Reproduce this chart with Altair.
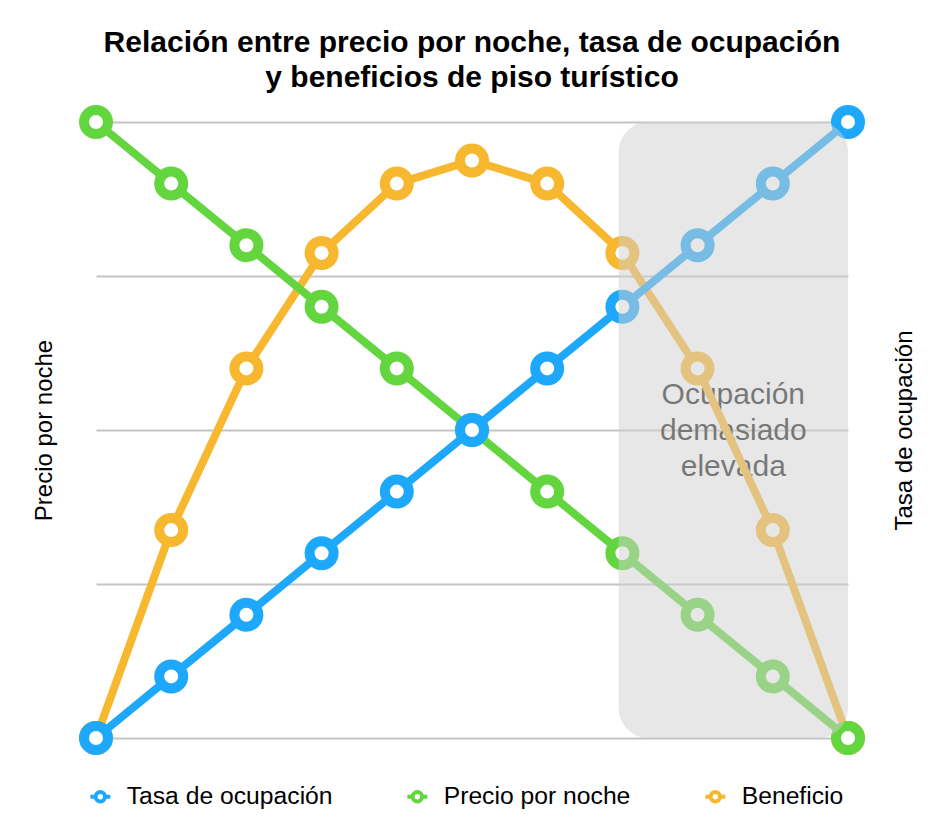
import altair as alt
import pandas as pd

# Eje horizontal: pasos de precio (de más caro a más barato)
pasos = list(range(11))

# Series (escala 0-100)
tasa_ocupacion = [0, 10, 20, 30, 40, 50, 60, 70, 80, 90, 100]
precio_noche = [100, 90, 80, 70, 60, 50, 40, 30, 20, 10, 0]
beneficio = [0, 33.75, 60, 78.75, 90, 93.75, 90, 78.75, 60, 33.75, 0]

series_nombres = ["Tasa de ocupación", "Precio por noche", "Beneficio"]
series_colores = ["#1ea8fb", "#63d63f", "#f7b72e"]
series_valores = [tasa_ocupacion, precio_noche, beneficio]

# Zona de ocupación excesiva
zona_inicio = [6.95]
zona_fin = [10]
zona_texto = ["Ocupación", "demasiado", "elevada"]

titulo = ["Relación entre precio por noche, tasa de ocupación",
          "y beneficios de piso turístico"]

FONT = "Liberation Sans"

rows = []
for nombre, valores in zip(series_nombres, series_valores):
    for p, v in zip(pasos, valores):
        rows.append({"paso": p, "valor": v, "serie": nombre})
df = pd.DataFrame(rows)

zona_df = pd.DataFrame({"x0": zona_inicio, "x1": zona_fin,
                        "y0": [0], "y1": [100]})
texto_df = pd.DataFrame({"xm": [(zona_inicio[0] + zona_fin[0]) / 2],
                         "ym": [50], "t": [zona_texto]})

x_scale = alt.Scale(domain=[0, 10], nice=False, zero=False)
y_scale = alt.Scale(domain=[0, 100], nice=False, zero=False)

left_axis = alt.Axis(values=[0, 25, 50, 75, 100], grid=True, gridColor="#c4c4c4",
                     gridWidth=2, labels=False, ticks=False, domain=False,
                     title="Precio por noche", titleFont=FONT, titleFontSize=24,
                     titleFontWeight="normal", titleColor="#000000",
                     titlePadding=40)

ring_symbol = ("M-0.47,0 A0.47,0.47 0 1,1 0.47,0 A0.47,0.47 0 1,1 -0.47,0 Z "
               "M-1,0 L-0.47,0 M0.47,0 L1,0")

color = alt.Color(
    "serie:N",
    scale=alt.Scale(domain=series_nombres, range=series_colores),
    legend=alt.Legend(orient="none", legendX=-8, legendY=662,
                      direction="horizontal", title=None,
                      labelFont=FONT, labelFontSize=24.7, labelColor="#000000",
                      labelLimit=0,
                      symbolType=ring_symbol, symbolSize=400,
                      symbolStrokeWidth=4, symbolFillColor="white",
                      labelOffset=14, columnPadding=66),
)

X = alt.X("paso:Q", scale=x_scale, axis=None)
Y = alt.Y("valor:Q", scale=y_scale, axis=left_axis)

texto = alt.Chart(texto_df).mark_text(
    font=FONT, fontSize=30, lineHeight=36, color="#1e1e1e",
    align="center", baseline="middle", dy=-35
).encode(
    x=alt.X("xm:Q", scale=x_scale, axis=None),
    y=alt.Y("ym:Q", scale=y_scale, axis=left_axis),
    text="t",
)

capas = [texto]
# Beneficio abajo, tasa de ocupación arriba
for nombre in ["Beneficio", "Precio por noche", "Tasa de ocupación"]:
    sub = alt.Chart(df).transform_filter(alt.datum.serie == nombre)
    capas.append(sub.mark_line(strokeWidth=8, strokeCap="round").encode(
        x=X, y=Y, color=color))
    capas.append(sub.mark_point(shape="circle", filled=False, fill="white",
                                fillOpacity=1, opacity=1, size=576,
                                strokeWidth=10).encode(
        x=X, y=Y, color=color))

zona = alt.Chart(zona_df).mark_rect(
    color="#cfcfcf", opacity=0.5, cornerRadius=30
).encode(
    x=alt.X("x0:Q", scale=x_scale, axis=None),
    x2="x1:Q",
    y=alt.Y("y0:Q", scale=y_scale, axis=left_axis),
    y2="y1:Q",
)
capas.append(zona)

izquierda = alt.layer(*capas)

derecha = alt.Chart(df).mark_point(opacity=0).encode(
    x=X,
    y=alt.Y("valor:Q", scale=y_scale,
            axis=alt.Axis(orient="right", grid=False, labels=False, ticks=False,
                          domain=False, title="Tasa de ocupación",
                          titleFont=FONT, titleFontSize=24,
                          titleFontWeight="normal", titleColor="#000000",
                          titleAngle=270, titleBaseline="top",
                          titlePadding=44)),
)

chart = alt.layer(izquierda, derecha).resolve_scale(y="independent").properties(
    width=752,
    height=616,
    padding={"left": 96, "top": 122, "right": 96, "bottom": 90},
    autosize=alt.AutoSizeParams(type="none"),
    background="white",
    title=alt.Title(text=titulo, font=FONT, fontSize=30, fontWeight="bold",
                    lineHeight=35, anchor="middle", color="#000000", offset=-3),
).configure_view(stroke=None)

chart.save("out.html", embed_options={"renderer": "svg", "actions": False})
